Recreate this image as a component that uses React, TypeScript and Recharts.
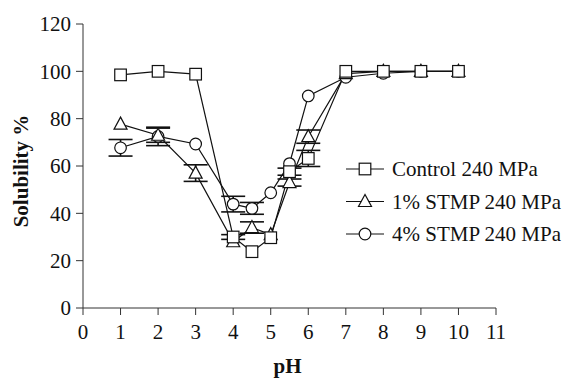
import React from 'react';
import {
  LineChart,
  Line,
  XAxis,
  YAxis,
  ErrorBar,
  Legend,
  Label,
} from 'recharts';

// pH points measured
const phValues = [1, 2, 3, 4, 4.5, 5, 5.5, 6, 7, 8, 9, 10];

// solubility % per treatment
const control240 = [98.5, 100, 98.8, 30, 23.8, 29.7, 57.6, 63.2, 100, 100, 100, 100];
const control240Err = [null, null, null, 1, null, null, 1.5, 3.4, null, null, null, null];
const stmp1 = [77.7, 73, 57, 28, 34, 31, 53, 72.4, 99, 100, 100, 100];
const stmp1Err = [null, 3, 3.5, null, 2.4, null, 1.5, 2.8, null, null, null, null];
const stmp4 = [67.7, 72.5, 69.3, 43.9, 42.1, 48.7, 61, 89.6, 97.5, 99.2, 100, 100];
const stmp4Err = [3.5, 3.9, null, 3.3, 2.5, null, null, null, null, null, null, null];

const xTicks = [0, 1, 2, 3, 4, 5, 6, 7, 8, 9, 10, 11];
const yTicks = [0, 20, 40, 60, 80, 100, 120];

const seriesNames = ['Control 240 MPa', '1% STMP 240 MPa', '4% STMP 240 MPa'];

const data = phValues.map((ph, i) => ({
  ph,
  control: control240[i],
  controlErr: control240Err[i],
  stmp1: stmp1[i],
  stmp1Err: stmp1Err[i],
  stmp4: stmp4[i],
  stmp4Err: stmp4Err[i],
}));

const FONT = 'Liberation Serif, Times New Roman, serif';
const INK = '#111';

function SquareDot(props: any) {
  const { cx, cy, index } = props;
  if (cx == null || cy == null) return null;
  return (
    <rect key={`sq-${index}`} x={cx - 5.8} y={cy - 5.8} width={11.6} height={11.6}
      fill="#fff" stroke={INK} strokeWidth={1.2} />
  );
}

function TriangleDot(props: any) {
  const { cx, cy, index } = props;
  if (cx == null || cy == null) return null;
  return (
    <polygon key={`tr-${index}`}
      points={`${cx},${cy - 7} ${cx - 6.5},${cy + 5} ${cx + 6.5},${cy + 5}`}
      fill="#fff" stroke={INK} strokeWidth={1.2} />
  );
}

function CircleDot(props: any) {
  const { cx, cy, index } = props;
  if (cx == null || cy == null) return null;
  return <circle key={`ci-${index}`} cx={cx} cy={cy} r={5.8} fill="#fff" stroke={INK} strokeWidth={1.2} />;
}

const legendMarkers = [SquareDot, TriangleDot, CircleDot];

function LegendBox() {
  return (
    <svg width={228} height={110} style={{ display: 'block' }}>
      {seriesNames.map((name, i) => {
        const y = 19 + i * 32.5;
        const Marker = legendMarkers[i];
        return (
          <g key={name}>
            <line x1={6} x2={44} y1={y} y2={y} stroke={INK} strokeWidth={1.2} />
            <Marker cx={25} cy={y} index={i} />
            <text x={52} y={y + 7} style={{ fontFamily: FONT, fontSize: 21 }} fill={INK}>{name}</text>
          </g>
        );
      })}
    </svg>
  );
}

export default function App() {
  const tick = { fill: INK, fontSize: 21, fontFamily: FONT, style: { fontFamily: FONT } };
  return (
    <div style={{ position: 'absolute', left: 0, top: 0, width: 568, height: 381, background: '#fff', fontFamily: FONT }}>
      <LineChart width={568} height={381} data={data} style={{ fontFamily: FONT }}
        margin={{ top: 24, right: 72, bottom: 0, left: 0 }}>
        <XAxis
          dataKey="ph"
          type="number"
          domain={[0, 11]}
          ticks={xTicks}
          interval={0}
          height={73}
          tick={tick}
          tickSize={7}
          tickMargin={9}
          stroke="#333"
          allowDecimals
        >
          <Label
            content={(p: any) => {
              const vb = p.viewBox;
              return (
                <text x={vb.x + vb.width / 2 - 2} y={vb.y + 65} textAnchor="middle"
                  style={{ fontFamily: FONT, fontSize: 21, fontWeight: 'bold' }} fill={INK}>pH</text>
              );
            }}
          />
        </XAxis>
        <YAxis
          type="number"
          domain={[0, 120]}
          ticks={yTicks}
          interval={0}
          width={83}
          tick={tick}
          tickSize={7}
          tickMargin={5}
          stroke="#333"
        >
          <Label
            content={(p: any) => {
              const vb = p.viewBox;
              const cx = 21;
              const cy = vb.y + vb.height / 2 + 5;
              return (
                <text x={cx} y={cy} transform={`rotate(-90 ${cx} ${cy})`} textAnchor="middle"
                  dominantBaseline="central" style={{ fontFamily: FONT, fontSize: 21, fontWeight: 'bold' }} fill={INK}>
                  Solubility %
                </text>
              );
            }}
          />
        </YAxis>
        <Legend
          layout="vertical"
          align="center"
          verticalAlign="middle"
          content={() => <LegendBox />}
          wrapperStyle={{ position: 'absolute', left: 340, top: 150, width: 228, height: 110 }}
        />
        <Line dataKey="stmp4" name={seriesNames[2]} stroke={INK} strokeWidth={1.2}
          dot={CircleDot} activeDot={false} isAnimationActive={false}>
          <ErrorBar dataKey="stmp4Err" width={12} stroke={INK} strokeWidth={1.6} direction="y" />
        </Line>
        <Line dataKey="stmp1" name={seriesNames[1]} stroke={INK} strokeWidth={1.2}
          dot={TriangleDot} activeDot={false} isAnimationActive={false}>
          <ErrorBar dataKey="stmp1Err" width={12} stroke={INK} strokeWidth={1.6} direction="y" />
        </Line>
        <Line dataKey="control" name={seriesNames[0]} stroke={INK} strokeWidth={1.2}
          dot={SquareDot} activeDot={false} isAnimationActive={false}>
          <ErrorBar dataKey="controlErr" width={12} stroke={INK} strokeWidth={1.6} direction="y" />
        </Line>
      </LineChart>
    </div>
  );
}
